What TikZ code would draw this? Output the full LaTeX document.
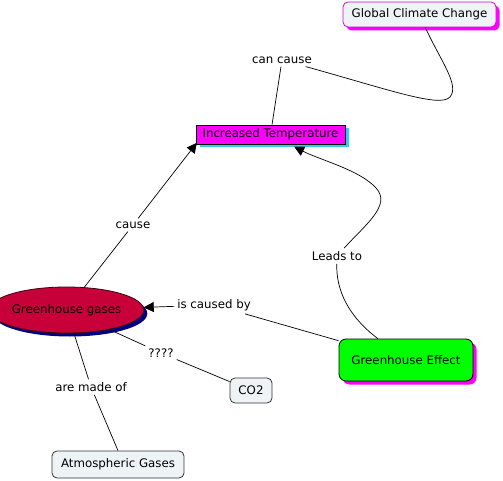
\documentclass[tikz,border=0pt]{standalone}
\usepackage{fontspec}
\setmainfont{DejaVu Sans}
\usetikzlibrary{shapes.geometric,shadows,arrows.meta}
\definecolor{boxfill}{HTML}{EEF3F5}
\definecolor{gcred}{HTML}{C8003A}
\definecolor{navy}{HTML}{000080}
\definecolor{skyc}{HTML}{33CCF0}
\definecolor{mag}{HTML}{FF00FF}
\definecolor{lime}{HTML}{00FF00}
\begin{document}
\begin{tikzpicture}[x=1pt,y=-1pt,
  every node/.style={font=\fontsize{11.8}{13}\selectfont, inner sep=0pt},
  concept/.style={draw=black!80, line width=0.8pt, rounded corners=5pt, fill=boxfill, align=center},
  lbl/.style={inner sep=3pt},
  conn/.style={line width=0.7pt, black},
  arr/.style={conn, -{Triangle[length=10pt,width=10pt]}},
  shad/.style={drop shadow={shadow xshift=3.5pt, shadow yshift=-3.5pt, fill=#1, opacity=1}}
]
\useasboundingbox (0,0) rectangle (503,481);
% concepts
\node[concept, draw=mag!85!black, shad=mag, minimum width=153pt, minimum height=25pt] (gcc) at (419.5,14.5) {Global Climate Change};
\node[concept, rounded corners=0pt, fill=mag, draw=black, shad=skyc, minimum width=149pt, minimum height=19pt] (it) at (270.5,134.5) {Increased Temperature};
\node[ellipse, draw=black!70!gcred, line width=0.8pt, fill=gcred, shad=navy, minimum width=130pt, minimum height=46pt] (gg) at (66.5,310) {Greenhouse gases};
\node[concept, fill=lime, draw=black, shad=mag, rounded corners=7pt, minimum width=134pt, minimum height=42pt] (ge) at (406,360) {Greenhouse Effect};
\node[concept, minimum width=42pt, minimum height=25pt] (co2) at (251,390.5) {CO2};
\node[concept, minimum width=132pt, minimum height=27pt] (ag) at (118,464.5) {Atmospheric Gases};
% linking phrases
\node[lbl] (cc) at (282,60) {can cause};
\node[lbl] (cause) at (133,225) {cause};
\node[lbl] (lt) at (337,256) {Leads to};
\node[lbl] (icb) at (214,305) {is caused by};
\node[lbl] (q) at (161,353) {????};
\node[lbl] (amo) at (91,387) {are made of};
% connectors
\draw[conn] (it) -- (cc);
\draw[conn] (cc) .. controls (390,90) and (440,108) .. (450,97)
   .. controls (460,85) and (440,60) .. (gcc);
\draw[conn] (gg) -- (cause);
\draw[arr, shorten >=-2pt] (cause) -- (it.south west);
\draw[conn] (ge) .. controls (348,316) and (336,290) .. (lt);
\draw[arr, shorten >=5pt] (lt) .. controls (365,225) and (392,205) .. (376,188)
   .. controls (360,170) and (320,160) .. (it);
\draw[conn] (ge) -- (icb);
\draw[arr] (icb) -- (gg);
\draw[conn] (gg) -- (q);
\draw[conn] (q) -- (co2);
\draw[conn] (gg) -- (amo);
\draw[conn] (amo) -- (ag.north);
\end{tikzpicture}
\end{document}
